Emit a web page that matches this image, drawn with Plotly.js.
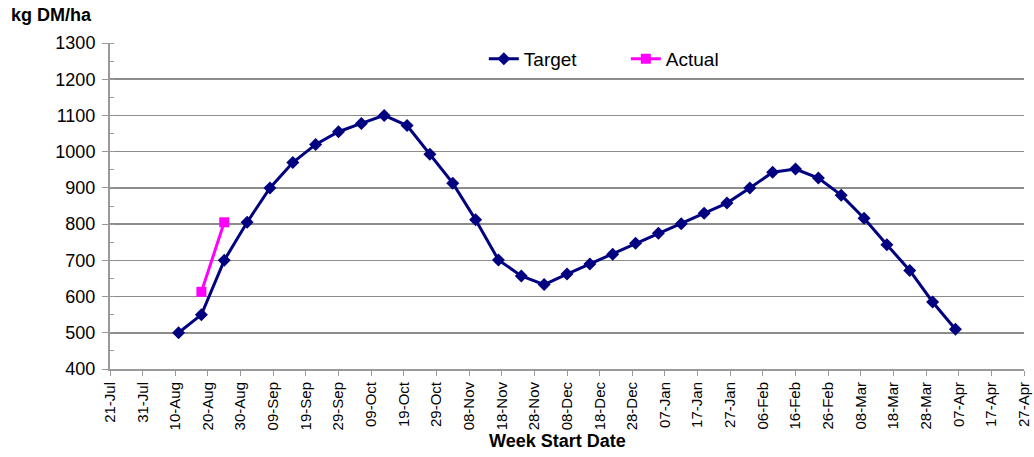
<!DOCTYPE html>
<html>
<head>
<meta charset="utf-8">
<script src="https://cdn.plot.ly/plotly-3.0.1.min.js"></script>
<style>html,body{margin:0;padding:0;background:#fff;}#chart{width:1034px;height:457px;}</style>
</head>
<body>
<div id="chart"></div>
<script>
const targetDates = ['2009-08-11','2009-08-18','2009-08-25','2009-09-01','2009-09-08','2009-09-15','2009-09-22','2009-09-29','2009-10-06','2009-10-13','2009-10-20','2009-10-27','2009-11-03','2009-11-10','2009-11-17','2009-11-24','2009-12-01','2009-12-08','2009-12-15','2009-12-22','2009-12-29','2010-01-05','2010-01-12','2010-01-19','2010-01-26','2010-02-02','2010-02-09','2010-02-16','2010-02-23','2010-03-02','2010-03-09','2010-03-16','2010-03-23','2010-03-30','2010-04-06'];
const targetValues = [500,550,700,805,900,970,1020,1055,1078,1100,1072,993,913,812,701,657,633,662,690,717,747,775,801,830,858,900,943,952,927,880,816,743,672,585,510];
const actualDates = ['2009-08-18','2009-08-25'];
const actualValues = [613,805];
const xRange = ['2009-07-21','2010-04-27'];
const yRange = [400,1300];

const font = 'Liberation Sans, Arial, sans-serif';
const traces = [
  {x: targetDates, y: targetValues, name: 'Target', type: 'scatter', mode: 'lines+markers',
   line: {color: '#000080', width: 3}, marker: {symbol: 'diamond', size: 10, color: '#000080'}},
  {x: actualDates, y: actualValues, name: 'Actual', type: 'scatter', mode: 'lines+markers',
   line: {color: '#FF00FF', width: 3}, marker: {symbol: 'square', size: 10, color: '#FF00FF'}}
];
const layout = {
  width: 1034, height: 457,
  margin: {l: 110, r: 10, t: 43, b: 88},
  paper_bgcolor: '#fff', plot_bgcolor: '#fff',
  font: {family: font, color: '#000'},
  showlegend: true,
  legend: {orientation: 'h', x: 0.409, xanchor: 'left', y: 0.951, yanchor: 'middle',
           font: {size: 19, family: font}, bgcolor: 'rgba(0,0,0,0)', entrywidth: 97, entrywidthmode: 'pixels'},
  xaxis: {type: 'date', range: xRange, tick0: '2009-07-21', dtick: 864000000, tickformat: '%d-%b',
          tickangle: -90, ticks: 'outside', ticklen: 5, tickcolor: '#999', showgrid: false,
          showline: true, linecolor: '#999', linewidth: 2, zeroline: false,
          tickfont: {size: 15, family: font}},
  yaxis: {range: yRange, dtick: 100, ticks: 'outside', ticklen: 6, tickcolor: '#999',
          showgrid: true, gridcolor: '#8c8c8c', gridwidth: 1.5, showline: true, linecolor: '#999', linewidth: 2,
          zeroline: false, tickfont: {size: 18, family: font}, ticklabelstandoff: 3,
          minor: {dtick: 50, ticks: 'inside', ticklen: 4, tickcolor: '#999', showgrid: false}},
  annotations: [
    {text: '<b>kg DM/ha</b>', xref: 'paper', yref: 'paper', x: -0.111, y: 1.0, xanchor: 'left', yanchor: 'bottom',
     yshift: 16, showarrow: false, font: {size: 18, family: font}},
    {text: '<b>Week Start Date</b>', xref: 'paper', yref: 'paper', x: 0.49, y: -0.221, xanchor: 'center', yanchor: 'middle',
     showarrow: false, font: {size: 18, family: font}}
  ]
};
Plotly.newPlot('chart', traces, layout, {displayModeBar: false, staticPlot: true});
</script>
</body>
</html>
